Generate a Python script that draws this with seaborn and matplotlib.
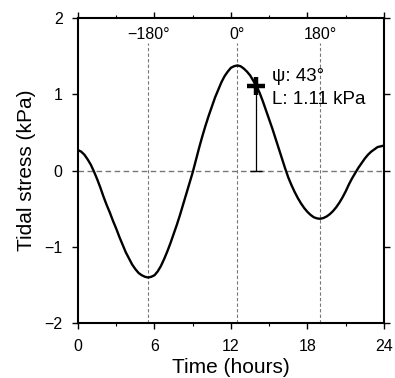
import matplotlib
matplotlib.use("Agg")
import matplotlib.pyplot as plt
import seaborn as sns
import numpy as np
import pandas as pd
from matplotlib.ticker import MultipleLocator

# ---- data ----
time_h = [0, 0.25, 0.5, 0.75, 1.0, 1.25, 1.5, 1.75, 2.0, 2.25, 2.5, 2.75, 3.0,
          3.25, 3.5, 3.75, 4.0, 4.25, 4.5, 4.75, 5.0, 5.25, 5.5, 5.75, 6.0,
          6.25, 6.5, 6.75, 7.0, 7.25, 7.5, 7.75, 8.0, 8.25, 8.5, 8.75, 9.0,
          9.25, 9.5, 9.75, 10.0, 10.25, 10.5, 10.75, 11.0, 11.25, 11.5, 11.75, 12.0,
          12.25, 12.5, 12.75, 13.0, 13.25, 13.5, 13.75, 14.0, 14.25, 14.5, 14.75, 15.0,
          15.25, 15.5, 15.75, 16.0, 16.25, 16.5, 16.75, 17.0, 17.25, 17.5, 17.75, 18.0,
          18.25, 18.5, 18.75, 19.0, 19.25, 19.5, 19.75, 20.0, 20.25, 20.5, 20.75, 21.0,
          21.25, 21.5, 21.75, 22.0, 22.25, 22.5, 22.75, 23.0, 23.25, 23.5, 23.75, 24.0]
stress_kpa = [0.27, 0.25, 0.21, 0.15, 0.08, -0.01, -0.11, -0.22, -0.34, -0.45, -0.55, -0.66, -0.76,
              -0.87, -0.97, -1.07, -1.15, -1.23, -1.29, -1.34, -1.37, -1.39, -1.40, -1.39, -1.37,
              -1.32, -1.25, -1.16, -1.06, -0.95, -0.83, -0.71, -0.58, -0.44, -0.30, -0.16, -0.02,
              0.14, 0.30, 0.45, 0.59, 0.72, 0.84, 0.96, 1.06, 1.16, 1.24, 1.30, 1.35,
              1.37, 1.38, 1.37, 1.34, 1.30, 1.25, 1.18, 1.11, 1.02, 0.91, 0.79, 0.67,
              0.55, 0.42, 0.29, 0.16, 0.03, -0.09, -0.19, -0.28, -0.36, -0.43, -0.49, -0.54,
              -0.58, -0.61, -0.625, -0.63, -0.62, -0.60, -0.57, -0.53, -0.48, -0.42, -0.35, -0.27,
              -0.18, -0.10, -0.03, 0.04, 0.10, 0.16, 0.21, 0.25, 0.28, 0.31, 0.32, 0.33]

phase_times = [5.52, 12.5, 18.98]
phase_labels = ["\u2212180\u00b0", "0\u00b0", "180\u00b0"]

event_time = 14.0
event_load = 1.11
event_psi = 43

x_ticks = [0, 6, 12, 18, 24]
y_ticks = [-2, -1, 0, 1, 2]
y_ticklabels = ["\u22122", "\u22121", "0", "1", "2"]

df = pd.DataFrame({"Time (hours)": time_h, "Tidal stress (kPa)": stress_kpa})

sns.set_style("ticks")
plt.rcParams["font.family"] = ["Liberation Sans", "DejaVu Sans"]
plt.rcParams["text.color"] = "black"
plt.rcParams["axes.labelcolor"] = "black"
plt.rcParams["xtick.color"] = "black"
plt.rcParams["ytick.color"] = "black"

fig = plt.figure(figsize=(3.95, 3.78), dpi=100)
ax = fig.add_axes([0.1975, 0.1447, 0.7745, 0.8073])

# reference lines
ax.axhline(0, color="#777777", lw=1.0, ls=(0, (4, 2.5)), zorder=1)
ax.vlines(phase_times, -2, 1.68, color="#777777", lw=0.8, ls=(0, (3, 2)), zorder=1)
for t, lab in zip(phase_times, phase_labels):
    ax.text(t, 1.79, lab, ha="center", va="center", fontsize=11.5, color="black")

sns.lineplot(data=df, x="Time (hours)", y="Tidal stress (kPa)", color="black",
             lw=1.7, ax=ax, zorder=3, solid_joinstyle="round", solid_capstyle="round")

# event marker
ax.vlines(event_time, 0, event_load, color="black", lw=0.9, zorder=4)
ax.plot([event_time], [0], marker="_", ms=8, mew=1.0, color="black", zorder=4)
ax.plot([event_time], [event_load], marker="+", ms=13, mew=3.2, color="black", zorder=5)
ax.text(15.2, 1.23, "\u03c8: %d\u00b0" % event_psi, ha="left", va="center", fontsize=13.5,
        color="black")
ax.text(15.2, 0.93, "L: %.2f kPa" % event_load, ha="left", va="center", fontsize=13.5,
        color="black")

ax.set_xlim(0, 24)
ax.set_ylim(-2, 2)
ax.set_xticks(x_ticks)
ax.set_yticks(y_ticks)
ax.set_yticklabels(y_ticklabels)
ax.xaxis.set_minor_locator(MultipleLocator(3))
ax.set_xlabel("Time (hours)", fontsize=15, labelpad=3)
ax.set_ylabel("Tidal stress (kPa)", fontsize=15, labelpad=6)

for s in ax.spines.values():
    s.set_visible(True)
    s.set_linewidth(1.5)
    s.set_color("black")

ax.tick_params(axis="both", which="major", direction="out", length=4, width=1.0,
               labelsize=11.5, top=True, right=True, colors="black")
ax.tick_params(axis="x", which="major", pad=7)
ax.tick_params(axis="x", which="minor", direction="out", length=2.5, width=0.8,
               top=True, bottom=True)
ax.tick_params(axis="y", which="major", pad=7)

fig.savefig("out.png", dpi=100)
